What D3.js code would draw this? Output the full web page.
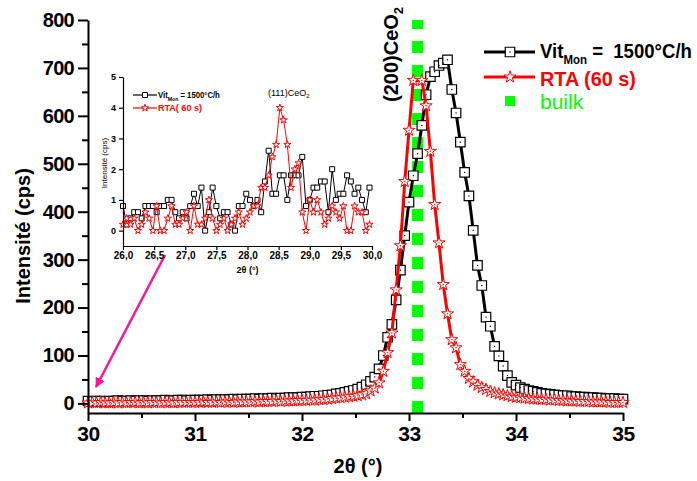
<!DOCTYPE html>
<html><head><meta charset="utf-8">
<script src="https://cdn.jsdelivr.net/npm/d3@7"></script>
<style>
html,body{margin:0;padding:0;background:#fff;}
svg{display:block;font-family:"Liberation Sans",Arial,sans-serif;}
</style></head>
<body>
<svg id="chart" width="697" height="481"></svg>
<script>
// ---------- main data: 2θ grid 30.00 .. 35.00, step 0.04 ----------
const mainStart = 30.0, mainStep = 0.04;
const blackMain = [
  5,4,5,5,4,5,5,6,5,5,6,5,6,6,5,6,6,6,7,6,6,7,7,6,7,
  7,7,7,8,7,8,8,8,8,9,8,9,9,9,10,9,10,10,11,10,11,11,12,12,12,
  13,13,14,15,15,16,17,18,20,21,23,25,27,30,34,39,46,
  55,72,100,138,165,216,278,350,420,475,521,580,644,682,692,705,710,717,
  655,606,545,482,433,361,288,246,180,161,119,99,78,58,44,
  38,33,30,27,25,23,21,20,19,18,17,16,16,14,14,13,13,12,12,11,11,10,10,10,9,9
];
const redMain = [
  1,2,1,2,1,1,2,1,2,1,2,2,1,2,1,2,2,1,2,2,1,2,2,2,2,
  2,2,3,2,2,3,2,3,3,2,3,3,3,3,4,3,4,4,4,5,4,5,5,5,6,
  6,6,7,7,8,8,9,10,11,12,13,14,15,16,18,20,26,
  32,43,67,106,147,237,329,463,570,674,null,674,621,526,415,335,248,187,
  133,116,81,67,52,45,38,33,29,25,22,20,18,16,14,
  13,12,11,10,9,9,8,8,7,7,6,6,5,5,5,4,4,4,3,3,3,3,2,2,2,2
];
const bulkAngle = 33.08;
const xTicks = [30,31,32,33,34,35];
const yTicks = [0,100,200,300,400,500,600,700,800];

// ---------- inset data: 2θ grid 26.00 .. 29.96, step 0.06 ----------
const insetStart = 26.0, insetStep = 0.06;
const blackInset = [
  0.8,0.2,0.4,0.6,0.6,0.4,0.8,0.8,0.8,0.6,0.8,0.8,1.0,1.0,0.6,0.4,0.6,0.4,0.8,1.2,
  0.8,1.4,0.0,0.6,1.4,0.8,0.4,0.6,0.6,0.2,0.0,0.8,0.8,1.2,1.0,0.8,1.0,0.6,1.6,2.6,
  1.2,1.2,1.8,1.8,1.0,1.8,1.8,1.8,2.4,0.8,1.0,1.4,1.4,1.6,1.6,0.6,2.0,1.0,1.2,1.2,
  1.8,1.6,1.2,1.4,1.0,0.6,1.4
];
const redInset = [
  0.2,0.4,0.2,0.4,0.0,0.2,0.6,0.4,0.0,0.8,0.0,0.0,0.4,0.8,0.2,0.2,0.4,0.6,0.0,0.8,
  0.2,0.2,0.4,1.0,0.4,0.0,0.2,0.4,0.0,0.2,0.4,0.6,0.2,0.4,0.6,0.8,0.8,1.4,1.4,1.8,
  2.4,2.8,4.0,3.6,2.8,1.4,2.0,2.2,0.6,0.0,1.0,0.6,1.0,0.6,0.2,0.4,0.8,0.6,0.4,0.8,
  0.0,0.0,0.8,0.6,0.6,0.0,0.2
];
const insetXTicks = [26.0,26.5,27.0,27.5,28.0,28.5,29.0,29.5,30.0];
const insetYTicks = [0,1,2,3,4,5];

const toPts = (start, step, arr) => arr.map((v,i)=>({a: +(start+i*step).toFixed(3), v}))
                                      .filter(d=>d.v!==null);

const svg = d3.select("#chart");
const FONT = '"Liberation Sans",Arial,sans-serif';

// squeeze a text horizontally so that it spans the given width, anchored at its x
function fitWidth(sel, x0, w){
  const bw = sel.node().getBBox().width;
  if (bw > 0) {
    const k = w / bw;
    sel.attr("transform", `translate(${x0},0) scale(${k},1) translate(${-x0},0)`);
  }
}

// ---------- main scales ----------
const x = d3.scaleLinear().domain([30,35]).range([88,623]);
const y = d3.scaleLinear().domain([-20,800]).range([413,20]);

// bulk reference line (dashed green)
svg.append("line")
  .attr("x1", x(bulkAngle)).attr("x2", x(bulkAngle))
  .attr("y1", y(-20)).attr("y2", y(800))
  .attr("stroke", "#00ff00").attr("stroke-width", 11)
  .attr("stroke-dasharray", "12,12");

const line = d3.line().x(d=>x(d.a)).y(d=>y(d.v));
const bPts = toPts(mainStart, mainStep, blackMain);
const rPts = toPts(mainStart, mainStep, redMain);

// black series
svg.append("path").datum(bPts).attr("d", line)
  .attr("fill","none").attr("stroke","#000").attr("stroke-width",3);
const sq = d3.symbol().type(d3.symbolSquare).size(90);
const gB = svg.append("g");
gB.selectAll("path").data(bPts).join("path")
  .attr("transform", d=>`translate(${x(d.a)},${y(d.v)})`)
  .attr("d", sq).attr("fill","#fff").attr("stroke","#000").attr("stroke-width",1.2);
gB.selectAll("circle").data(bPts).join("circle")
  .attr("cx", d=>x(d.a)).attr("cy", d=>y(d.v)).attr("r",0.7).attr("fill","#000");

// red series
svg.append("path").datum(rPts).attr("d", line)
  .attr("fill","none").attr("stroke","#ff0000").attr("stroke-width",3);
const star = d3.symbol().type(d3.symbolStar).size(45);
const gR = svg.append("g");
gR.selectAll("path").data(rPts).join("path")
  .attr("transform", d=>`translate(${x(d.a)},${y(d.v)})`)
  .attr("d", star).attr("fill","#fff").attr("stroke","#ff0000").attr("stroke-width",1);
gR.selectAll("circle").data(rPts).join("circle")
  .attr("cx", d=>x(d.a)).attr("cy", d=>y(d.v)).attr("r",0.7).attr("fill","#ff0000");

// ---------- main axes ----------
function styleAxis(g, w){
  g.select(".domain").attr("stroke","#000").attr("stroke-width",w);
  g.selectAll(".tick line").attr("stroke","#000").attr("stroke-width",w);
}
const xAx = svg.append("g").attr("transform",`translate(0,${y(-20)})`)
  .call(d3.axisBottom(x).tickValues(xTicks).tickSize(8).tickSizeOuter(0).tickPadding(5).tickFormat(d3.format("d")));
styleAxis(xAx, 2);
xAx.selectAll("text").attr("font-family",FONT).attr("font-size",21).attr("font-weight","bold")
  .attr("fill","#000").attr("letter-spacing","-0.5");
const xMin = svg.append("g").attr("transform",`translate(0,${y(-20)})`)
  .call(d3.axisBottom(x).tickValues([30.5,31.5,32.5,33.5,34.5]).tickSize(5).tickFormat(""));
xMin.select(".domain").remove(); styleAxis(xMin, 2);

const yAx = svg.append("g").attr("transform",`translate(${x(30)},0)`)
  .call(d3.axisLeft(y).tickValues(yTicks).tickSize(10).tickSizeOuter(0).tickPadding(4).tickFormat(d3.format("d")));
styleAxis(yAx, 2);
yAx.selectAll("text").attr("font-family",FONT).attr("font-size",20).attr("font-weight","bold")
  .attr("fill","#000").attr("letter-spacing","-0.7");
const yMin = svg.append("g").attr("transform",`translate(${x(30)},0)`)
  .call(d3.axisLeft(y).tickValues([50,150,250,350,450,550,650,750]).tickSize(6).tickFormat(""));
yMin.select(".domain").remove(); styleAxis(yMin, 2);

// axis titles
svg.append("text").attr("x",358).attr("y",473).attr("text-anchor","middle")
  .attr("font-family",FONT).attr("font-size",20).attr("font-weight","bold").text("2θ (°)");
svg.append("text").attr("transform","translate(30,236) rotate(-90)").attr("text-anchor","middle")
  .attr("font-family",FONT).attr("font-size",20).attr("font-weight","bold").text("Intensité (cps)");

// (200)CeO2 label
const lab = svg.append("text").attr("transform","translate(398,102) rotate(-90)")
  .attr("font-family",FONT).attr("font-size",20).attr("font-weight","bold");
lab.append("tspan").text("(200)CeO");
lab.append("tspan").attr("font-size",13).attr("dy",5).text("2");

// ---------- main legend ----------
const lg = svg.append("g");
lg.append("line").attr("x1",484).attr("x2",535).attr("y1",52).attr("y2",52).attr("stroke","#000").attr("stroke-width",3);
lg.append("path").attr("transform","translate(510,52)").attr("d",sq).attr("fill","#fff").attr("stroke","#000").attr("stroke-width",1.2);
lg.append("circle").attr("cx",510).attr("cy",52).attr("r",0.7).attr("fill","#000");
const t1 = lg.append("text").attr("x",540).attr("y",58).attr("font-family",FONT).attr("font-size",21).attr("font-weight","bold");
t1.append("tspan").text("Vit");
t1.append("tspan").attr("font-size",13).attr("dy",6).text("Mon");
t1.append("tspan").attr("dy",-6).attr("xml:space","preserve").text(" =  1500°C/h");
fitWidth(t1, 540, 152);
lg.append("line").attr("x1",484).attr("x2",535).attr("y1",77).attr("y2",77).attr("stroke","#ff0000").attr("stroke-width",3);
lg.append("path").attr("transform","translate(510,77)").attr("d",star).attr("fill","#fff").attr("stroke","#ff0000").attr("stroke-width",1);
const t2 = lg.append("text").attr("x",540).attr("y",86).attr("font-family",FONT).attr("font-size",21).attr("font-weight","bold")
  .attr("fill","#ff0000").text("RTA (60 s)");
fitWidth(t2, 540, 96);
lg.append("rect").attr("x",505).attr("y",96).attr("width",10).attr("height",10).attr("fill","#00ff00");
lg.append("text").attr("x",540).attr("y",109).attr("font-family",FONT).attr("font-size",21)
  .attr("fill","#00ff00").text("builk");

// ---------- arrow ----------
svg.append("defs").append("marker").attr("id","ah").attr("viewBox","0 0 10 10")
  .attr("refX",9).attr("refY",5).attr("markerWidth",4).attr("markerHeight",4).attr("orient","auto")
  .append("path").attr("d","M0,0 L10,5 L0,10 z").attr("fill","#ff1493");
svg.append("line").attr("x1",165).attr("y1",255).attr("x2",96).attr("y2",387)
  .attr("stroke","#ff1493").attr("stroke-width",2.5).attr("marker-end","url(#ah)");

// ---------- inset ----------
const xi = d3.scaleLinear().domain([26,30]).range([123,372]);
const yi = d3.scaleLinear().domain([-0.5,5]).range([246,77]);
const li = d3.line().x(d=>xi(d.a)).y(d=>yi(d.v));
const biPts = toPts(insetStart, insetStep, blackInset);
const riPts = toPts(insetStart, insetStep, redInset);
const sqi = d3.symbol().type(d3.symbolSquare).size(25);
const sti = d3.symbol().type(d3.symbolStar).size(16);

svg.append("path").datum(biPts).attr("d",li).attr("fill","none").attr("stroke","#000").attr("stroke-width",1);
svg.append("g").selectAll("path").data(biPts).join("path")
  .attr("transform", d=>`translate(${xi(d.a)},${yi(d.v)})`)
  .attr("d",sqi).attr("fill","#fff").attr("stroke","#000").attr("stroke-width",1);
svg.append("path").datum(riPts).attr("d",li).attr("fill","none").attr("stroke","#ff0000").attr("stroke-width",1);
svg.append("g").selectAll("path").data(riPts).join("path")
  .attr("transform", d=>`translate(${xi(d.a)},${yi(d.v)})`)
  .attr("d",sti).attr("fill","#fff").attr("stroke","#ff0000").attr("stroke-width",1);

const xiAx = svg.append("g").attr("transform",`translate(0,${yi(-0.5)})`)
  .call(d3.axisBottom(xi).tickValues(insetXTicks).tickSize(4).tickSizeOuter(0).tickPadding(2)
  .tickFormat(d=>d3.format(".1f")(d).replace(".",",")));
styleAxis(xiAx, 1.2);
xiAx.selectAll("text").attr("font-family",FONT).attr("font-size",10).attr("font-weight","bold").attr("fill","#000");
const yiAx = svg.append("g").attr("transform",`translate(${xi(26)},0)`)
  .call(d3.axisLeft(yi).tickValues(insetYTicks).tickSize(4).tickSizeOuter(0).tickPadding(3).tickFormat(d3.format("d")));
styleAxis(yiAx, 1.2);
yiAx.selectAll("text").attr("font-family",FONT).attr("font-size",9).attr("font-weight","bold").attr("fill","#000");

svg.append("text").attr("x",xi(28)).attr("y",273).attr("text-anchor","middle")
  .attr("font-family",FONT).attr("font-size",9).attr("font-weight","bold").text("2θ (°)");
svg.append("text").attr("transform",`translate(107,${yi(2.2)}) rotate(-90)`).attr("text-anchor","middle")
  .attr("font-family",FONT).attr("font-size",8).text("Intensité (cps)");
const t111 = svg.append("text").attr("x",268).attr("y",96).attr("font-family",FONT).attr("font-size",9);
t111.append("tspan").text("(111)CeO");
t111.append("tspan").attr("font-size",6).attr("dy",2).text("2");

// inset legend
svg.append("line").attr("x1",133).attr("x2",157).attr("y1",95).attr("y2",95).attr("stroke","#000").attr("stroke-width",1.2);
svg.append("path").attr("transform","translate(145,95)").attr("d",sqi).attr("fill","#fff").attr("stroke","#000").attr("stroke-width",1);
const ti = svg.append("text").attr("x",158).attr("y",98).attr("font-family",FONT).attr("font-size",9).attr("font-weight","bold");
ti.append("tspan").text("Vit");
ti.append("tspan").attr("font-size",6).attr("dy",3).text("Mon");
ti.append("tspan").attr("dy",-3).text(" = 1500°C/h");
fitWidth(ti, 158, 62);
svg.append("line").attr("x1",133).attr("x2",157).attr("y1",108).attr("y2",108).attr("stroke","#ff0000").attr("stroke-width",1.2);
svg.append("path").attr("transform","translate(145,108)").attr("d",sti).attr("fill","#fff").attr("stroke","#ff0000").attr("stroke-width",1);
const ti2 = svg.append("text").attr("x",158).attr("y",111).attr("font-family",FONT).attr("font-size",9).attr("font-weight","bold")
  .attr("fill","#ff0000").text("RTA( 60 s)");
fitWidth(ti2, 158, 44);
</script>
</body></html>
